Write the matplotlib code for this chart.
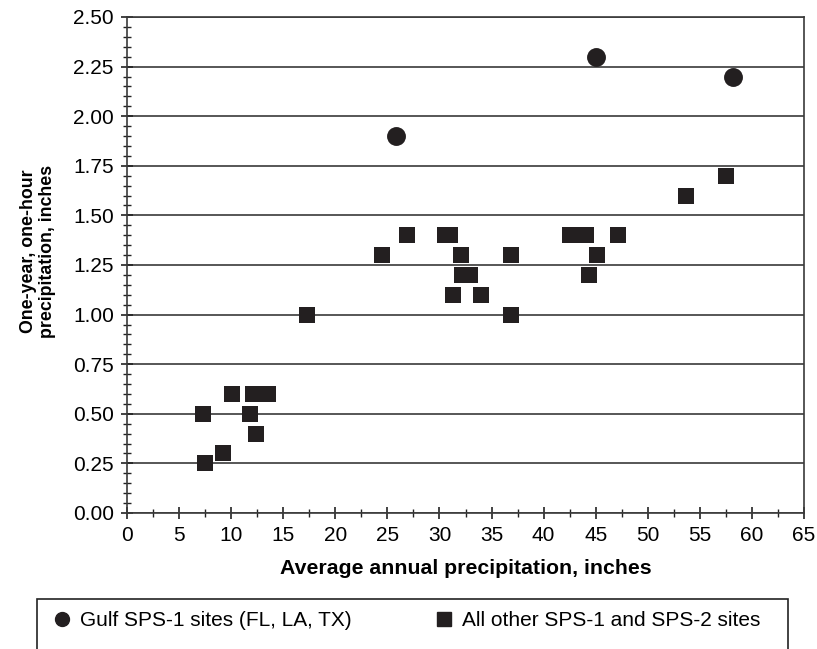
import matplotlib.pyplot as plt
from matplotlib.patches import Rectangle
from matplotlib.ticker import MultipleLocator
from matplotlib.lines import Line2D

plt.rcParams['font.family'] = ['Liberation Sans', 'DejaVu Sans']

# Gulf SPS-1 sites (FL, LA, TX)
gulf_x = [25.8, 45.0, 58.2]
gulf_y = [1.90, 2.30, 2.20]

# All other SPS-1 and SPS-2 sites
other_x = [7.3, 7.5, 9.25, 10.05, 11.8, 12.1, 12.35, 13.55, 17.25,
           24.45, 26.85, 30.5, 31.0, 31.3, 32.1, 32.15, 32.9, 34.0,
           36.85, 36.85, 42.5, 44.1, 44.35, 45.1, 47.15, 53.7, 57.55]
other_y = [0.50, 0.25, 0.30, 0.60, 0.50, 0.60, 0.40, 0.60, 1.00,
           1.30, 1.40, 1.40, 1.40, 1.10, 1.30, 1.20, 1.20, 1.10,
           1.30, 1.00, 1.40, 1.40, 1.20, 1.30, 1.40, 1.60, 1.70]

ink = '#231f20'

fig = plt.figure(figsize=(8.17, 6.49), dpi=100)
ax = fig.add_axes([127 / 817, 1 - 513 / 649, (804 - 127) / 817, (513 - 17) / 649])

ax.set_xlim(0, 65)
ax.set_ylim(0, 2.5)
ax.yaxis.set_major_locator(MultipleLocator(0.25))
ax.yaxis.set_minor_locator(MultipleLocator(0.05))
ax.xaxis.set_major_locator(MultipleLocator(5))
ax.xaxis.set_minor_locator(MultipleLocator(2.5))
ax.yaxis.set_major_formatter(lambda v, p: f'{v:.2f}')

ax.grid(axis='y', which='major', color='#3a3a3a', lw=1.2)
ax.set_axisbelow(True)
for s in ax.spines.values():
    s.set_color('#3a3a3a')
    s.set_linewidth(1.2)

ax.tick_params(which='major', direction='inout', length=9, width=1.2,
               color='#222222', labelsize=15, pad=5)
ax.tick_params(which='minor', direction='inout', length=6, width=1.0,
               color='#222222')
ax.tick_params(top=False, right=False, which='both')

ax.scatter(other_x, other_y, marker='s', s=132, color=ink, lw=0, zorder=3)
ax.scatter(gulf_x, gulf_y, marker='o', s=185, color=ink, lw=0, zorder=3)

ax.set_xlabel('Average annual precipitation, inches', fontsize=15.3,
              fontweight='bold', va='center')
ax.xaxis.set_label_coords(0.5, -(568 - 513) / 496)
ax.set_ylabel('One-year, one-hour\nprecipitation, inches', fontsize=12.8,
              fontweight='bold', linespacing=1.2, va='center')
ax.yaxis.set_label_coords(-(127 - 38) / 677, 0.528)

# legend box, running off the bottom of the figure
fig.add_artist(Rectangle((37 / 817, -0.05), (788 - 37) / 817, 0.05 + 50 / 649,
                         transform=fig.transFigure, fill=False,
                         edgecolor='#222222', lw=1.2, clip_on=False))
handles = [
    Line2D([], [], marker='o', ls='', color=ink, markersize=10),
    Line2D([], [], marker='s', ls='', color=ink, markersize=9.5),
]
fig.legend(handles, ['Gulf SPS-1 sites (FL, LA, TX)', 'All other SPS-1 and SPS-2 sites'],
           loc='center left', bbox_to_anchor=(54 / 817, 1 - 621 / 649), ncol=2,
           frameon=False, fontsize=15, handlelength=0.8, handletextpad=0.47,
           columnspacing=4.0, borderpad=0, borderaxespad=0)

fig.savefig('out.png', dpi=100)
